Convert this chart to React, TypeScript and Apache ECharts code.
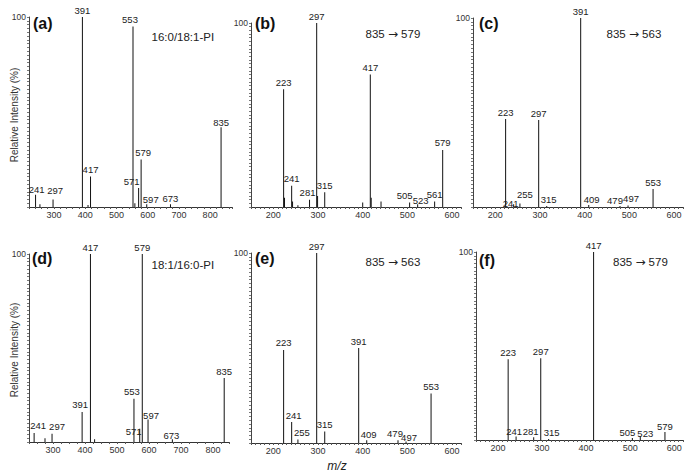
import React, { useEffect, useRef } from "react";
import * as echarts from "echarts";

// ---- Data (m/z, relative intensity %, labelled peaks) ----
const mzA = [241, 255, 297, 391, 409, 417, 553, 559, 571, 579, 597, 673, 835];
const intA = [6.5, 1.5, 4, 100, 1, 16, 95, 2, 10, 25, 1.5, 1.5, 42];
const labA = [241, 297, 391, 417, 553, 571, 579, 597, 673, 835];

const mzB = [223, 225, 241, 243, 255, 281, 297, 299, 315, 400, 417, 419, 441, 505, 523, 561, 579];
const intB = [64, 5, 11.5, 3, 1, 4, 100, 6, 8, 2.5, 72, 5, 3, 2.5, 1.5, 3, 31];
const labB = [223, 241, 281, 297, 315, 417, 505, 523, 561, 579];

const mzC = [223, 241, 255, 297, 315, 391, 409, 479, 497, 553];
const intC = [46.5, 1.5, 1.8, 46, 0.5, 100, 1, 0.5, 0.8, 9.5];
const labC = [223, 241, 255, 297, 315, 391, 409, 479, 497, 553];

const mzD = [241, 275, 297, 391, 417, 430, 553, 571, 579, 597, 673, 835];
const intD = [4.8, 2, 4.4, 16, 100, 1.5, 23, 7, 100, 12, 1.5, 34];
const labD = [241, 297, 391, 417, 553, 571, 579, 597, 673, 835];

const mzE = [223, 241, 255, 297, 315, 391, 409, 479, 497, 553];
const intE = [49, 11, 1.8, 100, 6, 50, 1.5, 1.5, 0.8, 26];
const labE = [223, 241, 255, 297, 315, 391, 409, 479, 497, 553];

const mzF = [223, 241, 281, 297, 315, 417, 505, 523, 579];
const intF = [43, 1.8, 1.5, 43.5, 0.5, 100, 1, 2, 4.3];
const labF = [223, 241, 281, 297, 315, 417, 505, 523, 579];

const panelLetters = ["(a)", "(b)", "(c)", "(d)", "(e)", "(f)"];
const panelNotes = ["16:0/18:1-PI", "835 \u2192 579", "835 \u2192 563", "18:1/16:0-PI", "835 \u2192 563", "835 \u2192 579"];
const yTitle = "Relative Intensity (%)";
const xTitle = "m/z";

// ---- Style: label nudges (px) ----
const offA: Record<number, number[]> = { 241: [1, 2], 297: [2, -2], 553: [-3, 0], 571: [-7, 0], 579: [2, 0], 597: [4, 2], 673: [0, 1], 835: [0, 2] };
const offB: Record<number, number[]> = { 281: [-2, 0], 505: [-5, 0], 523: [3, 3] };
const offC: Record<number, number[]> = { 241: [-3, 6], 255: [5, -2], 315: [2, 0], 409: [3, 1], 479: [-5, 1], 497: [3, 0] };
const offD: Record<number, number[]> = { 241: [4, 0], 297: [5, 0], 391: [-2, 0], 553: [-2, 0], 571: [-6, 10], 597: [3, 3], 673: [-1, 3] };
const offE: Record<number, number[]> = { 241: [2, 0], 255: [4, 0], 409: [2, 1], 479: [-3, 0], 497: [3, 3] };
const offF: Record<number, number[]> = { 241: [-2, 2], 281: [-3, 1], 315: [3, 0], 505: [-5, 1], 523: [5, 4], 579: [0, 2] };

const FONT = "'Liberation Sans', Arial, sans-serif";

const panels = [
  { mz: mzA, it: intA, lab: labA, off: offA, grid: { left: 29, top: 17, width: 203, height: 190 }, min: 220, max: 870, tick: 20, letter: [33, 23], note: [151.5, 37] },
  { mz: mzB, it: intB, lab: labB, off: offB, grid: { left: 251, top: 23, width: 210, height: 184 }, min: 150, max: 620, tick: 10, letter: [255, 23], note: [365.5, 34] },
  { mz: mzC, it: intC, lab: labC, off: offC, grid: { left: 473, top: 18, width: 210, height: 189 }, min: 150, max: 620, tick: 10, letter: [479, 23], note: [606.5, 34] },
  { mz: mzD, it: intD, lab: labD, off: offD, grid: { left: 29, top: 254, width: 200, height: 188 }, min: 225, max: 850, tick: 25, letter: [32, 258], note: [151.5, 265] },
  { mz: mzE, it: intE, lab: labE, off: offE, grid: { left: 251, top: 253, width: 210, height: 190 }, min: 150, max: 620, tick: 10, letter: [255, 258], note: [365.5, 262] },
  { mz: mzF, it: intF, lab: labF, off: offF, grid: { left: 476, top: 252, width: 209, height: 188 }, min: 150, max: 620, tick: 10, letter: [479, 260], note: [613, 262] },
];

function noteText(s: string) {
  const parts = s.split("\u2192");
  if (parts.length === 1) return `{t|${s}}`;
  return `{t|${parts[0]}}{arr|\u2192}{t|${parts[1]}}`;
}

export default function App() {
  const ref = useRef<HTMLDivElement>(null);
  useEffect(() => {
    if (!ref.current) return;
    const chart = echarts.init(ref.current, null, { renderer: "svg" });
    const graphic: any[] = [];
    panels.forEach((p, i) => {
      graphic.push({
        type: "text", x: p.letter[0], y: p.letter[1],
        style: { text: panelLetters[i], font: `bold 16px ${FONT}`, fill: "#111", align: "left", verticalAlign: "middle" },
      });
      graphic.push({
        type: "text", x: p.note[0], y: p.note[1],
        style: {
          text: noteText(panelNotes[i]), align: "left", verticalAlign: "middle",
          rich: {
            t: { fontSize: 11.5, fontFamily: FONT, fill: "#222", color: "#222" },
            arr: { fontSize: 12, fontFamily: "'DejaVu Sans', sans-serif", fill: "#222", color: "#222" },
          },
        },
      });
    });
    [115, 350].forEach((cy) => {
      graphic.push({
        type: "text", x: 14, y: cy, rotation: Math.PI / 2,
        style: { text: yTitle, font: `10px ${FONT}`, fill: "#333", align: "center", verticalAlign: "middle" },
      });
    });
    graphic.push({
      type: "text", x: 337, y: 466,
      style: { text: xTitle, font: `italic 12px ${FONT}`, fill: "#222", align: "center", verticalAlign: "middle" },
    });

    const option: any = {
      animation: false,
      backgroundColor: "#fff",
      textStyle: { fontFamily: FONT },
      grid: panels.map((p) => ({ ...p.grid, containLabel: false })),
      xAxis: panels.map((p, i) => ({
        type: "value", gridIndex: i, min: p.min, max: p.max, interval: p.tick,
        axisLine: { show: true, onZero: false, lineStyle: { color: "#333", width: 1 } },
        axisTick: { show: true, length: 2, lineStyle: { color: "#555", width: 1 } },
        axisLabel: {
          formatter: (v: number) => (Math.round(v) % 100 === 0 ? String(Math.round(v)) : ""),
          fontSize: 9, color: "#333", margin: 3, fontFamily: FONT,
        },
        splitLine: { show: false },
      })),
      yAxis: panels.map((p, i) => ({
        type: "value", gridIndex: i, min: 0, max: 100, interval: 2,
        axisLine: { show: true, lineStyle: { color: "#444", width: 1 } },
        axisTick: { show: true, length: 2, lineStyle: { color: "#777", width: 1 } },
        axisLabel: {
          formatter: (v: number) => (v === 100 ? "100" : ""),
          fontSize: 8.5, color: "#333", margin: 3, fontFamily: FONT,
        },
        splitLine: { show: false },
      })),
      series: panels.map((p, i) => ({
        type: "bar", xAxisIndex: i, yAxisIndex: i, barWidth: 1,
        itemStyle: { color: "#111" },
        label: {
          show: false, position: "top", distance: 2,
          formatter: (q: any) => String(q.value[0]),
          fontSize: 9.5, color: "#222", fontFamily: FONT,
        },
        data: p.mz.map((m, j) => ({
          value: [m, p.it[j]],
          label: { show: p.lab.includes(m), offset: p.off[m] || [0, 0] },
        })),
      })),
      graphic,
    };
    chart.setOption(option);
    return () => chart.dispose();
  }, []);
  return <div ref={ref} style={{ position: "fixed", left: 0, top: 0, width: 686, height: 472, background: "#fff" }} />;
}
